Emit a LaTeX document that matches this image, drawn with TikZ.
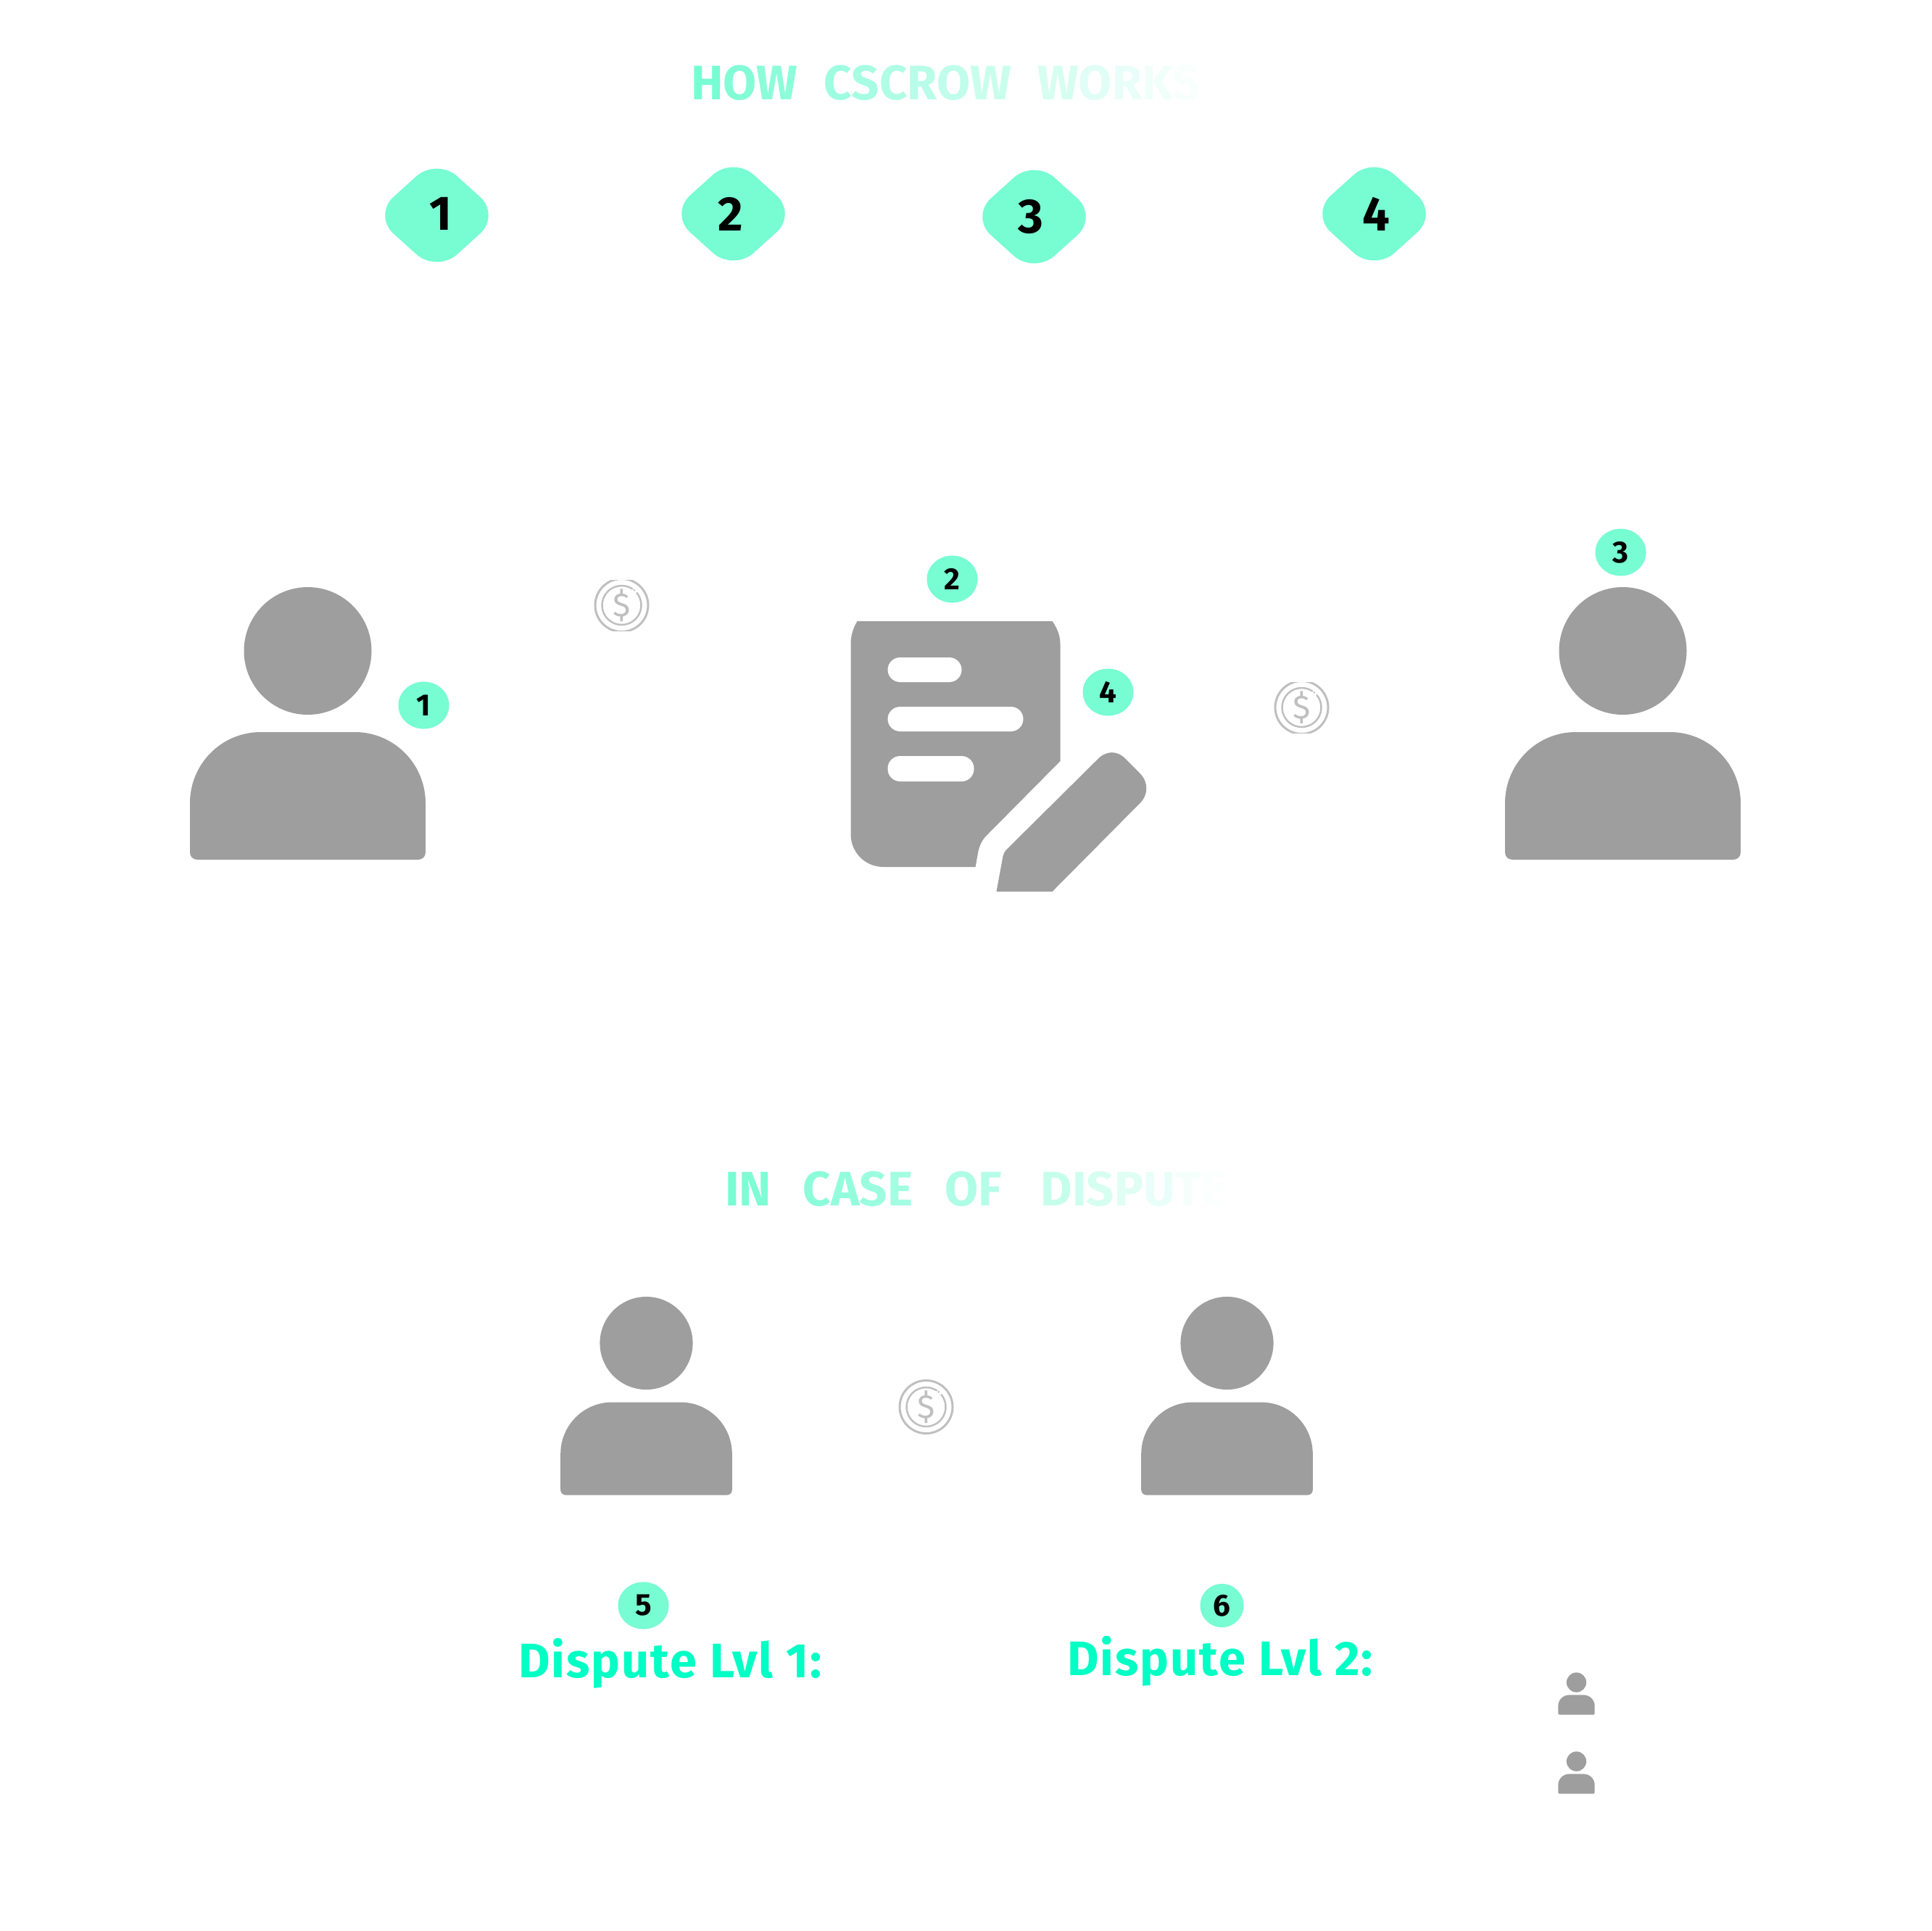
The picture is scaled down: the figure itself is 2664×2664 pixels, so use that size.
\documentclass[tikz,border=0pt]{standalone}
\usepackage{fontspec}
\usepackage{xcolor}
\setmainfont{Fira Sans}
\newfontfamily\headfont[LetterSpace=30]{Fira Sans}
\newfontfamily\caseheadfont[LetterSpace=42]{Fira Sans}
\newfontfamily\levelfont[LetterSpace=3]{Fira Sans}
\usetikzlibrary{positioning,shapes.geometric}

\definecolor{mint}{HTML}{78FCD2}
\definecolor{disputegreen}{HTML}{00FFC4}
\definecolor{icongray}{HTML}{9E9E9E}
\definecolor{coingray}{HTML}{BFBFBF}

\newcommand{\fl}[2]{\textcolor{mint!#1}{#2}}

\tikzset{
    stepdiamond/.style={diamond,fill=mint,minimum width=1.76cm,minimum height=1.59cm,
        inner sep=0pt,rounded corners=0.38cm},
    stepnum/.style={inner sep=0pt,font=\fontsize{19}{19}\selectfont\bfseries},
    badge/.style={ellipse,fill=mint,minimum width=0.70cm,minimum height=0.65cm,inner sep=0pt,
        font=\fontsize{12}{12}\selectfont\bfseries},
    heading/.style={inner sep=0pt,font=\fontsize{19}{19}\headfont\bfseries},
    casehead/.style={inner sep=0pt,font=\fontsize{19}{19}\caseheadfont\bfseries},
    levellabel/.style={inner sep=0pt,text=disputegreen,font=\fontsize{19}{19}\levelfont\bfseries},
    personicon/.pic={
        \fill[icongray] (0,0) circle (88);
        \fill[icongray] (-162.5,278) -- (-162.5,210)
            .. controls (-162.5,156) and (-119,112) .. (-65,112) -- (65,112)
            .. controls (119,112) and (162.5,156) .. (162.5,210) -- (162.5,278)
            .. controls (162.5,284) and (158,288) .. (152,288) -- (-152,288)
            .. controls (-158,288) and (-162.5,284) .. (-162.5,278) -- cycle;
    },
    coinicon/.pic={
        \draw[coingray,line width=0.03cm] (0,0) circle (36.5);
        \draw[coingray,line width=0.025cm,line cap=round] (-57:27) arc (-57:-399:27);
        \fill[coingray] (-50:27) circle (1.5);
        \node[inner sep=0pt,text=coingray,font=\fontsize{13}{13}\selectfont] (-dollar) at (0,0) {\$};
    },
}

\begin{document}
\begin{tikzpicture}[x=0.01cm,y=-0.01cm]
    \useasboundingbox (-0.5,-1) rectangle (2663.5,2663);

    % Heading
    \node[heading,anchor=west] (howhead) at (952,113) {\fl{100}{H}\fl{92}{O}\fl{85}{W} \fl{72}{C}\fl{66}{S}\fl{59}{C}\fl{53}{R}\fl{47}{O}\fl{40}{W} \fl{30}{W}\fl{23}{O}\fl{16}{R}\fl{11}{K}\fl{5}{S}};

    % Steps
    \node[stepdiamond] (diamond1) at (602,296) {};
    \node[stepdiamond] (diamond2) at (1011,294) {};
    \node[stepdiamond] (diamond3) at (1426,298) {};
    \node[stepdiamond] (diamond4) at (1895,294) {};
    \node[stepnum] (stepnum1) at (607,294) {1};
    \node[stepnum] (stepnum2) at (1007,294) {2};
    \node[stepnum] (stepnum3) at (1421,298) {3};
    \node[stepnum] (stepnum4) at (1898,294) {4};

    % People
    \pic (buyer) at (424,897) {personicon};
    \pic (seller) at (2238,897) {personicon};
    \node[badge] (badge1) at (584,972) {1};
    \node[badge] (badge3) at (2235,761) {3};

    % Coins
    \begin{scope}
        \clip (800,799) rectangle (912,869);
        \pic (coinone) at (857,834) {coinicon};
    \end{scope}
    \begin{scope}
        \clip (1740,940) rectangle (1850,1010);
        \pic (cointwo) at (1795,975) {coinicon};
    \end{scope}
    \pic (cointhree) at (1277,1940) {coinicon};

    % Contract
    \fill[icongray] (1182,856) -- (1451,856)
        .. controls (1458,866) and (1462,876) .. (1462,888) -- (1462,1049) -- (1360,1152)
        .. controls (1354,1158) and (1351,1165) .. (1349,1173) -- (1345,1195) -- (1218,1195)
        .. controls (1193,1195) and (1173,1175) .. (1173,1150) -- (1173,888)
        .. controls (1173,876) and (1176,866) .. (1182,856) -- cycle;
    \fill[white,rounded corners=0.17cm] (1224,906) rectangle (1326,940);
    \fill[white,rounded corners=0.17cm] (1224,974) rectangle (1411,1008);
    \fill[white,rounded corners=0.17cm] (1224,1042) rectangle (1343,1077);
    \fill[icongray] (1513,1047) -- (1387,1172)
        .. controls (1385,1174) and (1384,1177) .. (1383,1180) -- (1374,1229) -- (1451,1229) -- (1571,1108)
        .. controls (1584,1096) and (1584,1077) .. (1571,1065) -- (1552,1046)
        .. controls (1541,1034) and (1525,1034) .. (1513,1047) -- cycle;
    \node[badge] (badge2) at (1313,798) {2};
    \node[badge] (badge4) at (1528,954) {4};

    % Dispute
    \node[casehead,anchor=west] (casehead) at (999,1639) {\fl{100}{I}\fl{95}{N} \fl{85}{C}\fl{80}{A}\fl{74}{S}\fl{68}{E} \fl{60}{O}\fl{54}{F}\hspace{0.15em} \fl{42}{D}\fl{36}{I}\fl{30}{S}\fl{24}{P}\fl{16}{U}\fl{8}{T}\fl{3}{E}};
    \pic[scale=0.728] (partyone) at (891,1852) {personicon};
    \pic[scale=0.728] (partytwo) at (1692,1852) {personicon};
    \node[badge] (badge5) at (887,2214) {5};
    \node[badge,minimum width=0.60cm,minimum height=0.60cm] (badge6) at (1685,2214) {6};
    \node[levellabel,anchor=west] (levelone) at (714,2294) {Dispute Lvl 1:};
    \node[levellabel,anchor=west] (leveltwo) at (1471,2291) {Dispute Lvl 2:};

    % Small people
    \pic[scale=0.155] (arbiterone) at (2174,2320) {personicon};
    \pic[scale=0.155] (arbitertwo) at (2174,2429) {personicon};
\end{tikzpicture}
\end{document}
